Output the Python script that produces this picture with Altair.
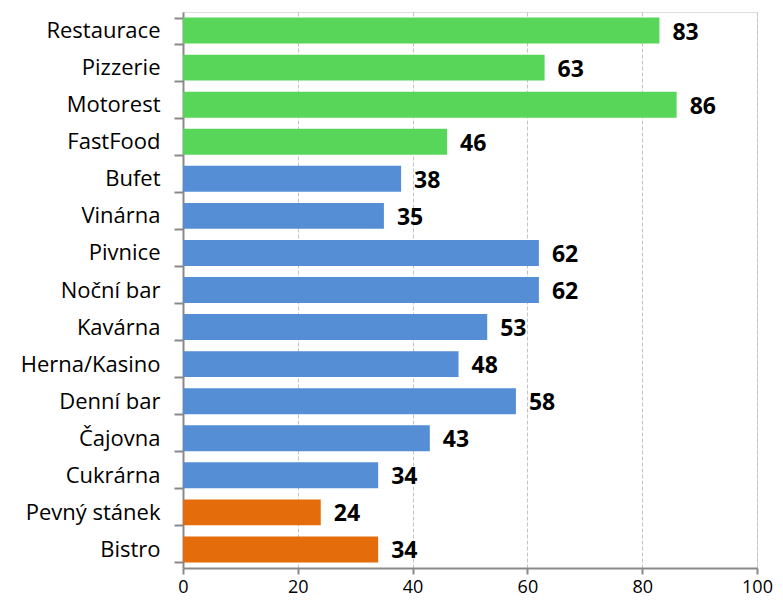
import altair as alt
import pandas as pd

categories = ["Restaurace", "Pizzerie", "Motorest", "FastFood", "Bufet", "Vinárna",
              "Pivnice", "Noční bar", "Kavárna", "Herna/Kasino", "Denní bar",
              "Čajovna", "Cukrárna", "Pevný stánek", "Bistro"]
values = [83, 63, 86, 46, 38, 35, 62, 62, 53, 48, 58, 43, 34, 24, 34]
groups = ["g", "g", "g", "g", "b", "b", "b", "b", "b", "b", "b", "b", "b", "o", "o"]
group_domain = ["g", "b", "o"]
group_colors = ["#58D65A", "#558ED5", "#E46C0A"]
x_ticks = [0, 20, 40, 60, 80, 100]

df = pd.DataFrame({"cat": categories, "val": values, "grp": groups})

FONT = "Open Sans"
W, H = 574, 556
PAD_L, PAD_T = 175, 4

y_enc = alt.Y("cat:N", sort=categories, title=None,
              scale=alt.Scale(paddingInner=0.3, paddingOuter=0.15),
              axis=alt.Axis(tickBand="extent", domainColor="#898989", tickColor="#898989",
                            tickSize=9, labelFontSize=22, labelColor="#000000",
                            labelFont=FONT, labelPadding=14, grid=False, domainWidth=2,
                            tickWidth=2, labelLimit=300))
x_enc = alt.X("val:Q", title=None,
              scale=alt.Scale(domain=[0, 100], nice=False),
              axis=alt.Axis(values=x_ticks, grid=True, gridDash=[4, 2], gridColor="#C4C4C4",
                            domainColor="#898989", tickColor="#898989", tickSize=6,
                            domainWidth=2, tickWidth=2, labelFontSize=18, labelFont=FONT,
                            labelColor="#000000", labelPadding=4, labelFlush=False))

bars = alt.Chart(df).mark_bar().encode(
    y=y_enc, x=x_enc,
    color=alt.Color("grp:N", scale=alt.Scale(domain=group_domain, range=group_colors), legend=None),
)

labels = alt.Chart(df).mark_text(align="left", baseline="middle", dx=13, dy=2,
                                 fontSize=23, fontWeight="bold", font=FONT, color="#000000").encode(
    y=alt.Y("cat:N", sort=categories),
    x=alt.X("val:Q"),
    text=alt.Text("val:Q"),
)

chart = (bars + labels).properties(
    width=W, height=H,
    autosize=alt.AutoSizeParams(type="none"),
    padding={"left": PAD_L, "top": PAD_T, "right": 767 - PAD_L - W, "bottom": 592 - PAD_T - H},
).configure_view(stroke=None).configure(background="#FFFFFF")

chart.save("out.html", embed_options={"renderer": "svg", "actions": False})
